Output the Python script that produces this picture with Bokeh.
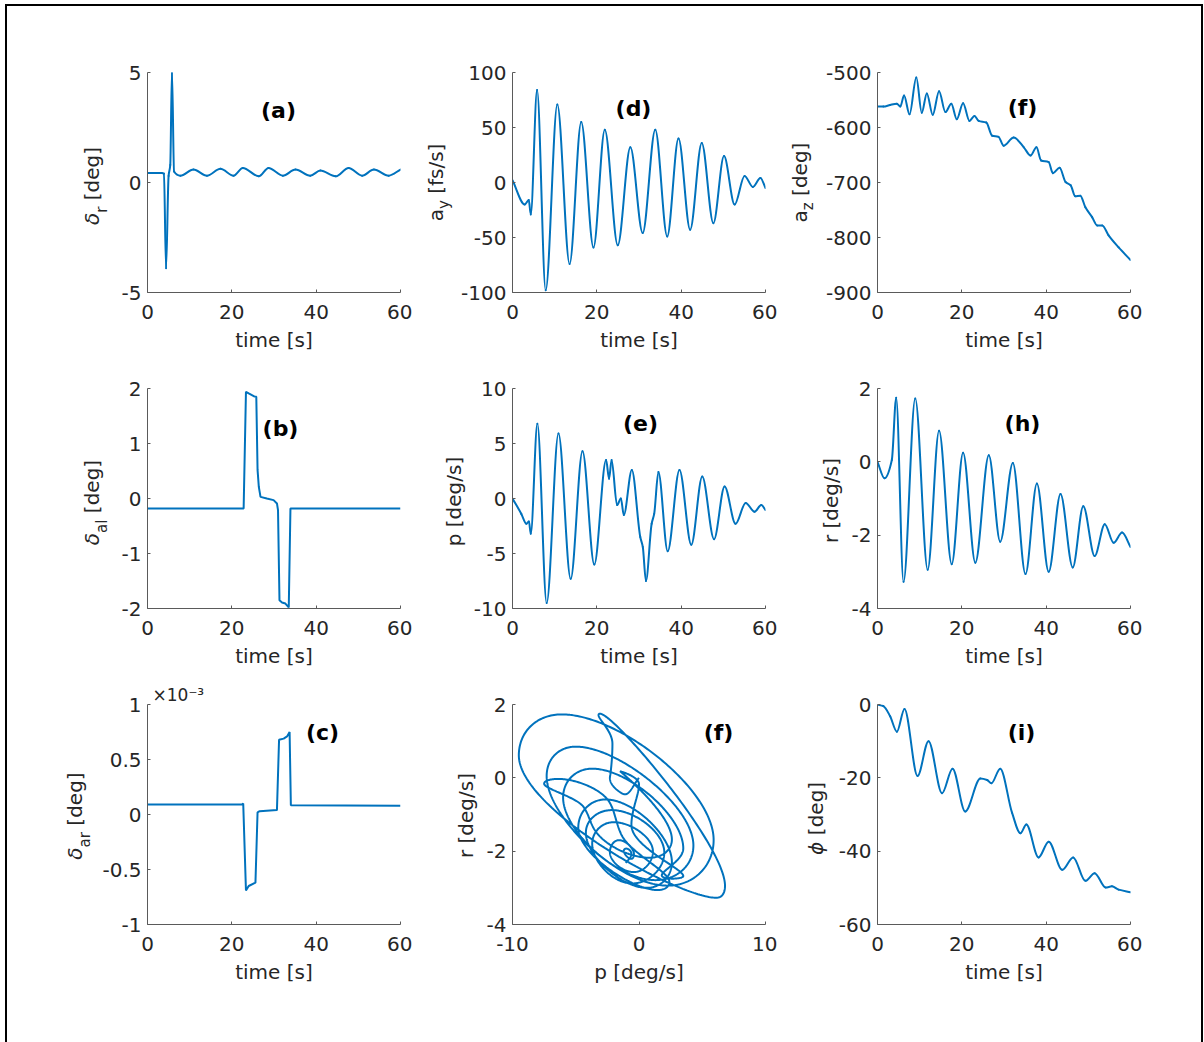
import numpy as np
from bokeh.plotting import figure
from bokeh.models import Range1d, FixedTicker, Label, Spacer, Title
from bokeh.layouts import column, row
from bokeh.embed import file_html
from bokeh.resources import INLINE

# ---------------- data ----------------
x_ticks_time = [0, 20, 40, 60]

# (a) rudder deflection delta_r [deg]
t_a = [0, 3.4, 3.9, 4.4, 5.0, 5.4, 5.8, 6.3, 7.8, 10.9, 14.1, 17.3, 20.4, 22.6, 26.4, 28.7,
       32.1, 35.1, 38.6, 41.0, 44.6, 47.7, 50.9, 53.7, 57.2, 60]
v_a = [0.43, 0.43, 0.40, -3.9, 0.30, 0.8, 5.05, 0.5, 0.31, 0.59, 0.31, 0.62, 0.31, 0.66, 0.28, 0.66,
       0.31, 0.59, 0.31, 0.54, 0.28, 0.66, 0.31, 0.59, 0.31, 0.59]
yt_a = [-5, 0, 5]

# (b) left aileron delta_al [deg]
t_b = [0, 22.8, 23.35, 24.0, 25.2, 25.8, 26.1, 26.4, 26.8, 28.3, 29.9, 30.7, 30.95, 31.3, 31.9,
       32.7, 33.5, 33.9, 60]
v_b = [-0.18, -0.18, 1.94, 1.91, 1.86, 1.85, 0.52, 0.21, 0.03, 0.0, -0.03, -0.09, -0.21, -1.85,
       -1.89, -1.91, -1.98, -0.18, -0.18]
yt_b = [-2, -1, 0, 1, 2]

# (c) right aileron delta_ar [x1e-3 deg]
t_c = [0, 22.4, 22.7, 23.35, 24.0, 25.6, 26.1, 26.6, 30.7, 31.2, 32.3, 33.1, 33.7, 34.0, 60]
v_c = [0.09, 0.09, 0.10, -0.69, -0.65, -0.62, 0.02, 0.03, 0.04, 0.68, 0.69, 0.71, 0.75, 0.085, 0.08]
yt_c = [-1, -0.5, 0, 0.5, 1]

# (d) lateral acceleration a_y [fs/s] (peaks / troughs)
t_d = [0, 2.9, 3.86, 4.33, 5.83, 7.87, 10.63, 13.54, 16.30, 19.21, 21.89, 24.96, 27.95, 30.87,
       33.86, 36.69, 39.37, 42.13, 44.88, 47.64, 50.16, 52.68, 55.04, 57.0, 58.8, 60]
v_d = [2, -20, -16, -29, 84, -98, 71, -74, 55, -59, 48, -57, 32, -46, 48, -49, 40, -43, 36, -37,
       24, -20, 6, -4, 4, -5]
yt_d = [-100, -50, 0, 50, 100]

# (e) roll rate p [deg/s]
t_e = [0, 2.1, 3.3, 3.9, 4.33, 5.9, 8.1, 10.9, 13.8, 16.6, 19.4, 22.2, 22.9, 23.5, 24.8, 25.7,
       26.4, 28.3, 30.3, 30.9, 31.65, 33.0, 33.6, 34.6, 36.8, 39.6, 42.4, 45.0, 47.8, 50.3, 52.9,
       55.3, 57.4, 59.0, 60]
v_e = [0, -1.4, -2.3, -2.1, -3.2, 6.8, -9.5, 5.9, -7.3, 4.3, -6.0, 3.5, 1.8, 3.5, -0.6, 0.0,
       -1.5, 2.6, -3.5, -4.4, -7.5, -2.3, -1.4, 2.4, -4.8, 2.6, -4.2, 2.0, -3.7, 1.1, -2.3,
       -0.4, -1.2, -0.6, -1.05]
yt_e = [-10, -5, 0, 5, 10]

# (f, top) vertical acceleration a_z
t_f = [0, 1.4, 3.0, 4.6, 5.4, 6.3, 7.6, 9.2, 10.5, 11.7, 13.1, 14.6, 16.1, 17.5, 18.8, 20.3,
       21.8, 23.0, 24.0, 25.8, 27.2, 28.7, 29.9, 32.3, 34.7, 36.3, 37.7, 38.8, 40.6, 41.6, 43.2,
       44.6, 45.8, 46.9, 48.1, 49.3, 50.9, 52.1, 53.3, 54.8, 57.2, 60]
v_f = [-562, -562, -559, -557, -562, -542, -576, -509, -573, -538, -577, -534, -572, -557, -585,
       -556, -588, -579, -588, -591, -615, -617, -633, -618, -636, -651, -636, -660, -663, -683,
       -673, -699, -705, -725, -724, -745, -763, -778, -778, -796, -818, -841]
yt_f = [-900, -800, -700, -600, -500]

# (h) yaw rate r [deg/s]
t_h = [0, 1.66, 3.4, 4.43, 6.17, 8.95, 11.9, 14.6, 17.6, 20.3, 23.2, 26.4, 29.1, 32.1, 35.1,
       37.8, 40.6, 43.4, 46.3, 48.8, 51.5, 53.9, 56.0, 58.0, 60]
v_h = [0, -0.45, 0.05, 1.75, -3.27, 1.73, -2.94, 0.85, -2.79, 0.25, -2.75, 0.18, -2.18, -0.03,
       -3.06, -0.59, -3.0, -0.88, -2.88, -1.21, -2.57, -1.7, -2.21, -1.93, -2.32]
yt_h = [-4, -2, 0, 2]

# (i) bank angle phi [deg]
t_i = [0, 1.4, 3.0, 4.6, 6.4, 9.5, 12.1, 15.3, 17.8, 20.8, 24.4, 26.0, 27.0, 29.1, 31.9, 33.9,
       35.3, 38.2, 40.6, 43.8, 46.4, 49.3, 51.5, 54.1, 55.6, 57.2, 60]
v_i = [0, -0.45, -3.2, -7.4, -1.2, -19.5, -10.0, -24.2, -17.5, -29.2, -20.2, -20.6, -21.5, -17.5,
       -29.5, -35.1, -32.7, -41.7, -37.4, -45.1, -41.7, -48.1, -46.0, -49.9, -49.6, -50.5, -51.2]
yt_i = [-60, -40, -20, 0]

# phase plane (f, bottom): r versus p, built from series (e) and (h)
xt_pp = [-10, 0, 10]
yt_pp = [-4, -2, 0, 2]

# ---------------- styling ----------------
BLUE = "#0072BD"
FONT = "DejaVu Sans"
TXT = "#262626"
AXC = "#5a5a5a"
FW, FH = 253, 220
BL, BR, BT, BB = 100, 12, 30, 66
H = BT + FH + BB

ADV = {' ': .318, '[': .390, ']': .390, 'd': .635, 'e': .615, 'g': .635, 's': .521, '/': .337,
       'f': .352, 'p': .635, 'a': .613, 'r': .411, 'l': .278, 'y': .592, 'z': .525,
       'δ': .612, 'ϕ': .68}


def tlen(s, size):
    return sum(ADV.get(ch, 0.6) for ch in s) * size


def fmt(v):
    return "%g" % v


def px2d(xr, yr, dx, dy):
    return (xr[0] + dx / FW * (xr[1] - xr[0]), yr[1] - dy / FH * (yr[1] - yr[0]))


def make_fig(ml, xr, yr, xticks, yticks, xlabel):
    p = figure(width=ml + FW + BR, height=H, x_range=Range1d(*xr), y_range=Range1d(*yr),
               output_backend="svg", toolbar_location=None,
               min_border_left=ml, min_border_right=BR, min_border_top=BT,
               min_border_bottom=BB)
    p.outline_line_color = None
    p.grid.visible = False
    p.background_fill_color = "white"
    p.border_fill_color = "white"
    for ax, ticks in ((p.xaxis[0], xticks), (p.yaxis[0], yticks)):
        ax.ticker = FixedTicker(ticks=ticks)
        ax.major_label_overrides = {v: fmt(v) for v in ticks}
        ax.axis_line_color = AXC
        ax.axis_line_width = 1
        ax.major_tick_line_color = AXC
        ax.major_tick_in = 3
        ax.major_tick_out = 0
        ax.minor_tick_line_color = None
        ax.major_label_text_font = FONT
        ax.major_label_text_font_size = "20px"
        ax.major_label_text_color = TXT
    p.xaxis.major_label_standoff = 12
    p.yaxis.major_label_standoff = 6
    p.xaxis.axis_label = xlabel
    p.xaxis.axis_label_text_font = FONT
    p.xaxis.axis_label_text_font_size = "20px"
    p.xaxis.axis_label_text_font_style = "normal"
    p.xaxis.axis_label_text_color = TXT
    p.xaxis.axis_label_standoff = 6
    return p


def label_fig(ml, bx, dyc, pieces):
    """Narrow canvas left of the tick labels carrying the rotated y label (with subscripts).
    Its frame has the same vertical extent as the neighbouring plot frame."""
    lw = BL - ml
    f = figure(width=lw, height=H, x_range=Range1d(0, lw), y_range=Range1d(0, FH),
               output_backend="svg", toolbar_location=None,
               min_border_left=0, min_border_right=0, min_border_top=BT, min_border_bottom=BB,
               x_axis_location=None, y_axis_location=None)
    f.outline_line_color = None
    f.grid.visible = False
    f.background_fill_color = "white"
    f.border_fill_color = "white"
    total = sum(tlen(t, sz) + gap * sz for (t, sz, sh, it, gap) in pieces)
    ypos = FH / 2 + dyc + total / 2          # px below frame top where the text starts
    for (t, sz, sh, it, gap) in pieces:
        ypos -= gap * sz
        L = tlen(t, sz)
        cx = BL + bx + sh - 0.33 * sz         # centre of the glyph column
        cy = ypos - L / 2
        f.add_layout(Label(x=cx, y=FH - cy, text=t, angle=np.pi / 2,
                           text_align="center", text_baseline="middle", text_font=FONT,
                           text_font_size=f"{sz}px",
                           text_font_style="italic" if it else "normal", text_color=TXT))
        ypos -= L
    return f


def tag(p, xr, yr, dx, dy, text):
    x, y = px2d(xr, yr, dx, dy)
    p.add_layout(Label(x=x, y=y, text=text, text_align="center", text_baseline="middle",
                       text_font=FONT, text_font_size="22px", text_font_style="bold",
                       text_color="black"))


def slopes(t, v):
    t = np.asarray(t, float)
    v = np.asarray(v, float)
    h = np.diff(t)
    d = np.diff(v) / h
    m = np.zeros_like(v)
    m[0] = d[0]
    m[-1] = d[-1]
    for k in range(1, len(v) - 1):
        if d[k - 1] * d[k] > 0:
            w1 = 2 * h[k] + h[k - 1]
            w2 = h[k] + 2 * h[k - 1]
            m[k] = (w1 + w2) / (w1 / d[k - 1] + w2 / d[k])
    return t, v, m


def smooth_curve(p, tk, vk):
    t, v, m = slopes(tk, vk)
    h = np.diff(t)
    p.bezier(x0=t[:-1], y0=v[:-1], x1=t[1:], y1=v[1:],
             cx0=t[:-1] + h / 3, cy0=v[:-1] + m[:-1] * h / 3,
             cx1=t[1:] - h / 3, cy1=v[1:] - m[1:] * h / 3,
             line_color=BLUE, line_width=2, line_cap="round")


def hermite(tk, vk, tq):
    t, v, m = slopes(tk, vk)
    i = np.clip(np.searchsorted(t, tq, side="right") - 1, 0, len(t) - 2)
    h = t[i + 1] - t[i]
    s = (tq - t[i]) / h
    return ((2 * s**3 - 3 * s**2 + 1) * v[i] + (s**3 - 2 * s**2 + s) * h * m[i]
            + (-2 * s**3 + 3 * s**2) * v[i + 1] + (s**3 - s**2) * h * m[i + 1])


TR = (0, 60)
TL = "time [s]"
DEG = ("[deg]", 20, 0, False, .318)

# (a)
ra = (-5, 5)
pa = make_fig(32, TR, ra, x_ticks_time, yt_a, TL)
smooth_curve(pa, t_a, v_a)
la = label_fig(32, -49, 3.5, [("δ", 20, 0, True, 0), ("r", 15, 8, False, 0), DEG])
tag(pa, TR, ra, 131, 38, "(a)")

# (b)
rb = (-2, 2)
pb = make_fig(32, TR, rb, x_ticks_time, yt_b, TL)
pb.line(t_b, v_b, line_color=BLUE, line_width=2)
lb = label_fig(32, -49, 4, [("δ", 20, 0, True, 0), ("al", 15, 8, False, 0), DEG])
tag(pb, TR, rb, 133, 40, "(b)")

# (c)
rc = (-1, 1)
pc = make_fig(48, TR, rc, x_ticks_time, yt_c, TL)
pc.line(t_c, v_c, line_color=BLUE, line_width=2)
lc = label_fig(48, -66, 1.5, [("δ", 20, 0, True, 0), ("ar", 15, 8, False, 0), DEG])
tag(pc, TR, rc, 175, 28, "(c)")
pc.add_layout(Title(text="×10⁻³", align="left", offset=5, standoff=0,
                    text_font=FONT, text_font_size="17px", text_font_style="normal",
                    text_color=TXT), "above")

# (d)
rd = (-100, 100)
pd = make_fig(54, TR, rd, x_ticks_time, yt_d, TL)
smooth_curve(pd, t_d, v_d)
ld = label_fig(54, -70, 0, [("a", 20, 0, False, 0), ("y", 15, 6, False, 0), ("[fs/s]", 20, 0, False, .318)])
tag(pd, TR, rd, 121, 36, "(d)")

# (e)
re_ = (-10, 10)
pe = make_fig(44, TR, re_, x_ticks_time, yt_e, TL)
smooth_curve(pe, t_e, v_e)
le = label_fig(44, -52, 3, [("p [deg/s]", 20, 0, False, 0)])
tag(pe, TR, re_, 128, 35, "(e)")

# (f) top
rf = (-900, -500)
pf = make_fig(55, TR, rf, x_ticks_time, yt_f, TL)
smooth_curve(pf, t_f, v_f)
lf = label_fig(55, -71, 0, [("a", 20, 0, False, 0), ("z", 15, 6, False, 0), DEG])
tag(pf, TR, rf, 145, 35, "(f)")

# (h)
rh = (-4, 2)
ph = make_fig(32, TR, rh, x_ticks_time, yt_h, TL)
smooth_curve(ph, t_h, v_h)
lh = label_fig(32, -40, 2, [("r [deg/s]", 20, 0, False, 0)])
tag(ph, TR, rh, 145, 35, "(h)")

# (f) phase plane r vs p, from the (e) and (h) series
xpp, ypp = (-10, 10), (-4, 2)
pp = make_fig(32, xpp, ypp, xt_pp, yt_pp, "p [deg/s]")
tq = np.linspace(0, 60, 3001)
pp.line(hermite(t_e, v_e, tq), hermite(t_h, v_h, tq), line_color=BLUE, line_width=2)
lp = label_fig(32, -40, 1, [("r [deg/s]", 20, 0, False, 0)])
tag(pp, xpp, ypp, 206, 28, "(f)")

# (i)
ri = (-60, 0)
pi_ = make_fig(44, TR, ri, x_ticks_time, yt_i, TL)
smooth_curve(pi_, t_i, v_i)
li = label_fig(44, -55, 4, [("ϕ", 20, 0, True, 0), DEG])
tag(pi_, TR, ri, 144, 28, "(i)")

rows = column(row(la, pa, ld, pd, lf, pf),
              row(lb, pb, le, pe, lh, ph),
              row(lc, pc, lp, pp, li, pi_))
root = column(Spacer(height=36, width=10),
              row(Spacer(width=40, height=10), rows),
              width=1198, height=1050,
              styles={"border": "2px solid black", "margin-left": "5px", "margin-top": "4px",
                      "background-color": "white"})

open("out.html", "w").write(file_html(root, INLINE, title="flight response"))
